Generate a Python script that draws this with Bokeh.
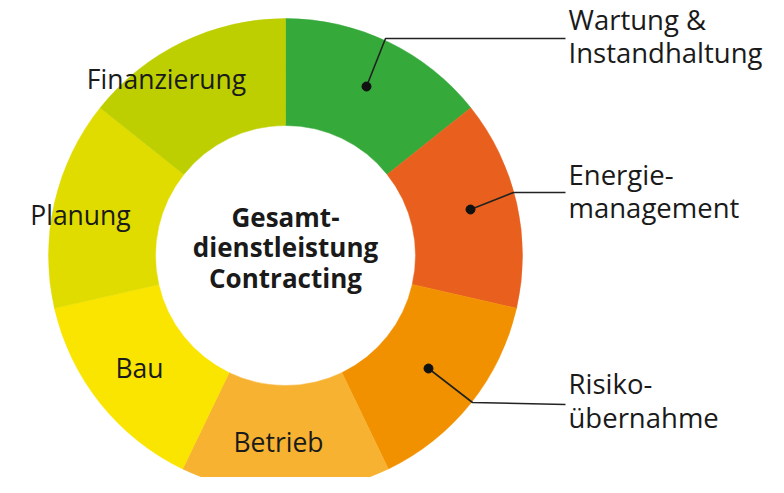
import numpy as np
from bokeh.plotting import figure
from bokeh.models import Range1d, ColumnDataSource
from bokeh.core.properties import value
from bokeh.embed import file_html
from bokeh.resources import INLINE

# ---- data ----
categories = ["Wartung & Instandhaltung", "Energiemanagement", "Risikoübernahme",
              "Betrieb", "Bau", "Planung", "Finanzierung"]
shares = [1, 1, 1, 1, 1, 1, 1]
colors = ["#35A93A", "#E9601E", "#F29100", "#F7B232", "#F9E500", "#E0DC00", "#BDCF00"]
center_lines = ["Gesamt-", "dienstleistung", "Contracting"]
inner_labels = ["Finanzierung", "Planung", "Bau", "Betrieb"]
outer_labels = [["Wartung &", "Instandhaltung"], ["Energie-", "management"], ["Risiko-", "übernahme"]]

# ---- layout (pixel coordinates of the reference picture, y flipped) ----
W, H = 768, 477
def Y(py):
    return H - py

cx, cy = 285, Y(255)
r_out, r_in = 237, 130

FONT = "Open Sans"
DY = 11  # baseline correction for text rendering

p = figure(width=W, height=H, output_backend="svg", toolbar_location=None,
           x_range=Range1d(0, W), y_range=Range1d(0, H),
           min_border=0, outline_line_color=None)
p.axis.visible = False
p.grid.visible = False
p.background_fill_color = "white"
p.border_fill_color = "white"

vals = np.array(shares, dtype=float)
frac = vals / vals.sum() * 2 * np.pi
ends = np.pi / 2 - np.concatenate([[0], np.cumsum(frac)[:-1]])
starts = ends - frac
src = ColumnDataSource(dict(cat=categories, start=starts, end=ends, color=colors))
p.annular_wedge(x=cx, y=cy, inner_radius=r_in, outer_radius=r_out,
                start_angle="start", end_angle="end", fill_color="color",
                line_color="color", line_width=0.5, source=src)

# inner ring labels
lab_pos = [(166, 89), (80, 225), (139, 378), (278, 452)]
p.text(x=[q[0] for q in lab_pos], y=[Y(q[1] - DY) for q in lab_pos], text=inner_labels,
       text_font=value(FONT), text_font_size="26.5px", text_color="#1a1a1a",
       text_align="center", text_baseline="alphabetic")

# center text
p.text(x=[cx] * 3, y=[Y(229 - 13), Y(259 - 13), Y(290 - 13)], text=center_lines,
       text_font=value(FONT), text_font_size="26px", text_font_style="bold",
       text_color="#1a1a1a", text_align="center", text_baseline="alphabetic")

# outer labels with leader lines
out_base = [(30, 63), (185, 218), (394, 428)]
leaders = [[(366, 86), (385, 38), (565, 38)],
           [(470, 209), (513, 192), (565, 192)],
           [(428, 368), (472, 402), (565, 404)]]
for lines, bases, pts in zip(outer_labels, out_base, leaders):
    p.text(x=[568, 568], y=[Y(bases[0] - DY), Y(bases[1] - DY)], text=lines,
           text_font=value(FONT), text_font_size="27.5px", text_color="#1a1a1a",
           text_align="left", text_baseline="alphabetic")
    p.line(x=[q[0] for q in pts], y=[Y(q[1]) for q in pts],
           line_color="#222222", line_width=1.6)
    p.scatter(x=[pts[0][0]], y=[Y(pts[0][1])], size=9, marker="circle",
              fill_color="#111111", line_color="#111111")

open("out.html", "w").write(file_html(p, INLINE))
